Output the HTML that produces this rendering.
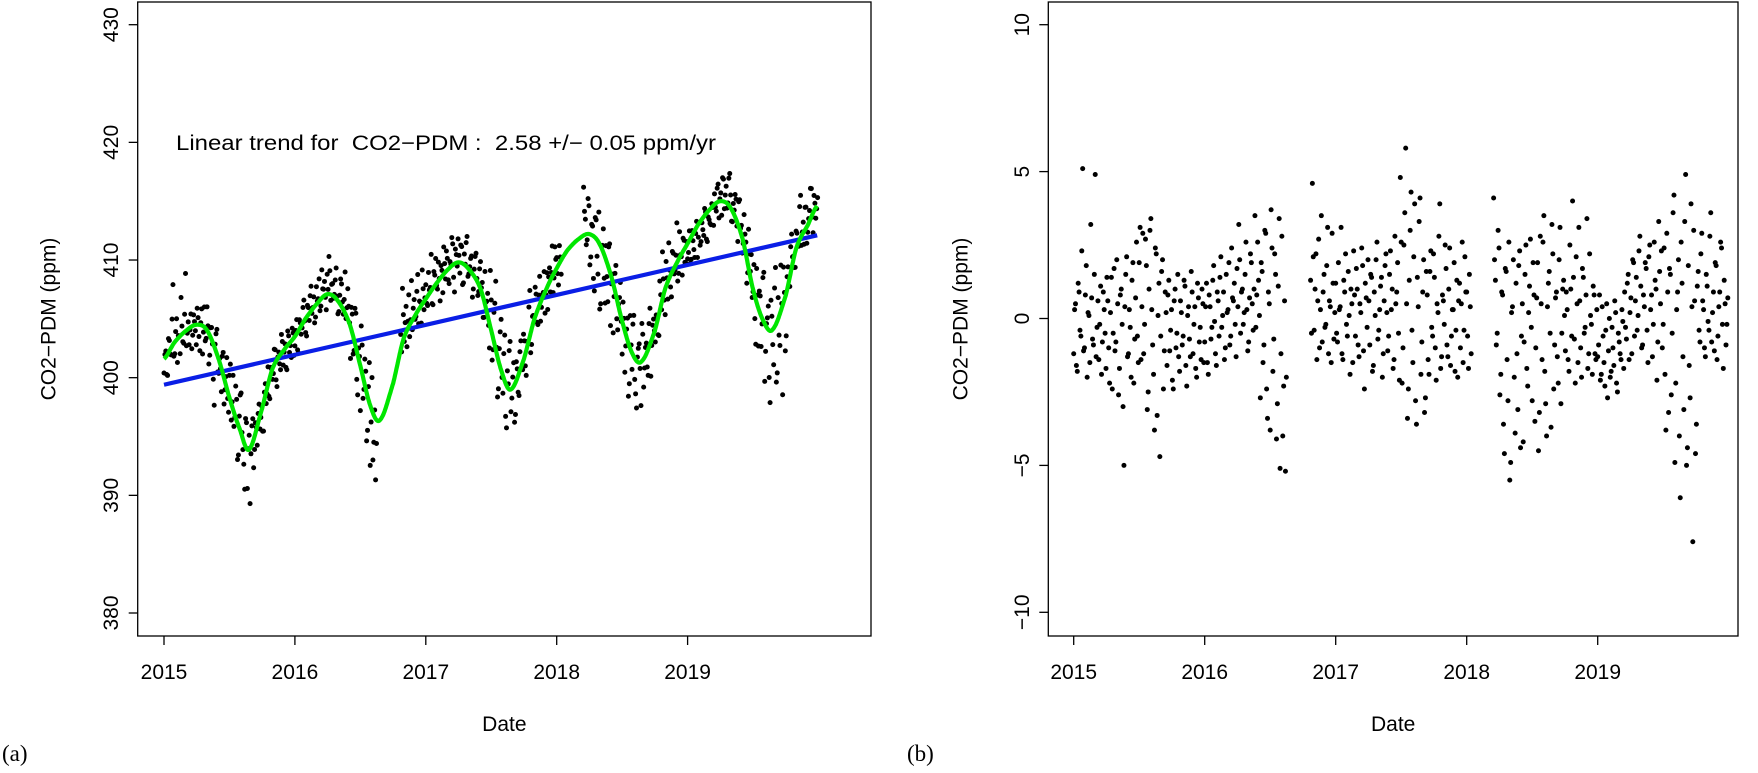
<!DOCTYPE html>
<html><head><meta charset="utf-8"><style>
html,body{margin:0;padding:0;background:#fff;}
svg text{font-family:"Liberation Sans",Arial,sans-serif;fill:#000;}
</style></head><body>
<svg id="fig" width="1758" height="768" viewBox="0 0 1758 768" xmlns="http://www.w3.org/2000/svg">
<g id="pa"></g>
<g id="pb"></g>
<text x="2" y="761" style="font-family:'Liberation Serif',serif;font-size:23px">(a)</text>
<text x="907" y="761" style="font-family:'Liberation Serif',serif;font-size:23px">(b)</text>
</svg>
<script>
// ---- data ----
const yearTicks = [2015, 2016, 2017, 2018, 2019];
const ticksA = [380, 390, 400, 410, 420, 430];
const ticksB = [-10, -5, 0, 5, 10];
const seasonPhase = [0, 0.08, 0.17, 0.25, 0.33, 0.42, 0.5, 0.58, 0.65, 0.75, 0.83, 0.92];
const fit2015 = [401.6,403.0,404.0,404.5,404.0,401.5,398.3,395.6,393.9,397.4,400.8,402.4];
const fit2016 = [403.5,405.0,406.3,407.1,406.5,404.5,401.0,397.5,396.4,399.5,403.3,405.3];
const fit2017 = [406.7,408.0,409.2,409.8,409.2,407.5,404.0,400.5,399.0,401.6,405.0,407.5];
const fit2018 = [409.3,410.8,411.8,412.2,411.3,408.5,404.8,402.0,401.4,404.0,407.6,409.8];
const fit2019 = [411.4,413.0,414.3,415.0,414.4,411.8,407.5,404.8,404.1,407.0,411.0,413.0];
const fitEnd = [2019.99, 414.6];
const trendStart = [2015.0, 399.4];
const trendEnd = [2019.99, 412.1];
const sampleDays = 5;
const res2015 = [-1.2,0.5,-1.8,0.9,-0.6,5.1,-1.0,1.8,0.2,-1.5,0.7,-0.9,4.9,-0.3,-1.4,1.1,-0.8,0.3,-1.7,
0.6,-2.2,1.4,-0.5,-1.1,2.0,-2.6,0.8,-0.2,-5.0,1.5,-1.3,0.3,-2.0,1.9,-0.7,2.6,-1.5,
3.1,0.4,-1.2,2.7,-3.1,1.0,3.4,-0.9,-3.8,2.2,0.1,-4.7,1.6,-2.4,0.9,
-1.6,1.3,-0.4,-2.1,0.6,-1.0,1.5,-1.8,0.2,-0.6,1.1,-2.3,0.4,-1.3,0.9,-0.2,-1.7,1.2,-0.8,-1.4,0.5];
const res2016 = [-0.8,1.2,-1.9,0.4,-0.3,1.8,-1.2,0.9,-0.6,2.1,0.1,-1.4,1.5,0.3,-0.9,2.4,0.6,-0.2,1.7,3.2,-0.5,1.0,0.2,2.6,-1.1,0.7,1.9,-0.4,3.5,0.8,1.3,
-2.7,1.6,-0.9,2.9,-3.4,0.5,3.7,-1.8,2.2,-4.1,1.1,-5.1,2.8,-2.3,-5.2,
null,null,null,null,null,null,null,null,null,null,null,null,null,
1.3,4.6,-0.4,2.2,0.6,-1.0,3.5,0.9,-0.3,1.8,-1.2,0.4,2.9,-0.7];
const res2017 = [1.2,-0.8,0.3,3.1,-1.4,0.9,-0.2,1.6,-1.9,0.5,2.3,-0.6,1.0,-1.3,0.2,1.8,-2.4,0.7,2.0,-0.9,1.4,-1.6,0.1,2.6,-0.4,1.1,-2.0,0.6,2.2,-1.1,1.5,0.3,-1.7,2.8,0.9,-0.5,
4.8,-2.2,2.5,5.8,-3.4,1.3,4.3,-1.5,3.9,-3.6,0.4,4.1,-0.8,2.0,-2.7,
0.8,-1.9,2.3,-0.6,1.4,-2.1,0.2,3.9,-1.3,0.6,2.5,-0.9,1.0,-1.6,0.3,1.9,-0.4,-2.0,1.2,0.5,-1.5,2.1];
const res2018 = [0.9,-1.7,0.4,
null,null,null,null,null,null,null,null,null,null,null,null,
4.1,1.3,-0.5,2.4,-1.9,0.8,-4.6,1.6,-2.8,-5.5,0.2,2.0,-3.9,-1.2,1.8,-4.4,0.5,-0.8,2.5,-2.3,1.1,-0.3,1.9,-3.5,
0.7,-4.5,2.8,-1.4,3.5,-2.9,0.4,1.6,-3.7,2.2,-0.9,0.9,-2.2,3.1,-0.5,1.3,
-1.1,0.3,-1.8,1.0,4.0,-0.7,2.1,-1.5,0.6,-2.0,1.4,-0.3,3.4,-1.2,0.1,-1.9,0.8,-1.4];
const res2019 = [-1.3,0.8,-1.9,-0.6,-2.3,0.5,-1.1,-2.0,-0.3,-1.6,0.2,-2.5,-0.8,-1.4,-0.1,
0.9,-0.7,1.5,0.2,-1.2,1.9,0.6,-0.4,2.3,1.1,-0.9,0.4,1.7,-1.5,2.5,0.8,-0.2,1.3,-2.1,3.3,0.5,-1.0,
2.4,-3.8,0.9,1.7,-2.6,3.6,-4.9,0.3,2.0,-6.1,1.2,-3.1,4.9,-4.4,-1.6,3.9,-7.6,0.6,-3.6,
1.6,-0.8,2.9,0.3,-1.3,1.1,-0.4,3.6,0.2,-1.1,1.8,-0.6,0.9,2.4,-1.7,0.5,-0.2];
// second sample set (offset by half a sampling interval)
const resB2015 = [0.3,-1.6,1.2,-0.4,2.3,-1.1,0.8,-2.0,0.1,3.2,-0.7,1.5,-1.3,0.6,-0.2,-1.9,0.9,-0.5,1.4,
-1.0,0.2,-2.4,1.7,-0.8,0.5,-1.7,1.0,-3.0,0.4,2.1,-1.2,-0.3,1.3,-2.2,0.7,-0.6,1.9,
-1.4,2.9,-0.2,1.8,-2.5,3.0,0.3,-1.9,2.4,-3.3,1.2,-0.6,2.0,-1.1,0.2,
0.8,-1.1,0.3,-2.4,1.0,-0.5,-1.3,0.6,-0.9,1.3,-1.6,0.1,-0.7,1.6,-1.2,0.4,-2.0,0.7,-0.3,1.0,-1.5];
const resB2016 = [0.4,-1.5,0.8,-0.7,1.3,-0.1,-1.6,0.6,1.4,-0.3,0.9,-1.0,0.2,1.9,-0.6,0.7,1.2,-1.3,0.4,2.0,0.9,-0.2,1.5,0.3,-0.8,2.2,0.5,1.0,-0.3,2.6,0.1,
1.9,-1.5,3.0,-2.4,0.9,-3.8,2.4,-0.7,1.5,-2.9,3.4,-1.2,-4.0,0.6,-2.0,
null,null,null,null,null,null,null,null,null,null,null,null,null,
-0.5,2.1,1.0,-1.4,2.7,0.3,-0.8,1.5,-0.2,3.1,0.6,-1.5,1.2,0.2];
const resB2017 = [-0.5,1.9,0.4,-1.2,1.3,2.2,-0.6,0.1,1.0,-1.5,0.8,1.7,-0.9,0.5,2.4,-1.1,1.2,-0.3,0.6,1.5,-1.8,0.9,2.0,-0.7,0.3,1.4,-1.2,1.8,0.2,-0.6,2.3,1.0,-1.4,0.5,1.9,-2.1,
2.6,-1.0,3.6,0.5,-2.4,3.0,-0.4,2.1,-2.8,1.4,3.3,-1.9,0.9,-3.2,1.6,
-1.4,1.6,-0.3,2.2,-1.0,0.5,2.8,-1.7,0.8,-0.2,1.7,-1.3,2.4,-0.6,0.3,-1.8,1.3,0.6,-1.0,2.6,-0.4,0.9];
const resB2018 = [-0.6,1.5,-1.2,
null,null,null,null,null,null,null,null,null,null,null,null,
2.0,-0.9,3.0,-2.6,0.9,-3.6,1.7,-1.4,2.6,-4.9,0.4,-2.0,1.2,-3.1,2.3,-0.6,-4.2,1.5,-1.7,0.2,2.7,-2.8,0.8,-1.0,
1.9,-3.2,0.5,2.6,-1.8,-4.0,1.2,-0.5,3.2,-2.4,0.7,-1.3,2.0,-2.9,1.0,0.1,
0.9,-1.4,2.5,-0.6,1.4,-2.2,0.5,3.1,-1.0,1.7,-0.5,0.8,-1.7,2.2,-0.2,1.1,-1.2,0.3];
const resB2019 = [-0.9,-2.1,0.4,-1.5,-0.4,-2.7,0.0,-1.8,-1.0,0.6,-2.2,-0.5,-1.2,0.3,-1.7,
-0.3,1.2,-1.4,0.7,2.0,-0.6,1.4,0.1,2.8,-1.0,0.8,1.9,-0.4,2.1,0.3,-1.3,2.6,1.0,-0.8,1.6,2.3,-0.2,
-1.9,2.9,-3.2,1.5,-0.5,4.2,-2.2,0.9,-4.0,2.6,-1.3,3.3,-5.0,1.8,-2.7,0.4,3.0,-4.6,1.1,
-0.4,2.2,0.6,-1.0,1.5,-0.1,2.8,-0.8,0.9,1.9,-1.4,0.4,2.6,-0.2,1.3,-0.9,0.7];

// ---- build ----
const NS = "http://www.w3.org/2000/svg";
function mk(parent, tag, attrs, text){
  const e = document.createElementNS(NS, tag);
  for (const k in attrs) e.setAttribute(k, attrs[k]);
  if (text !== undefined) e.textContent = text;
  parent.appendChild(e); return e;
}
const fitYears = [fit2015, fit2016, fit2017, fit2018, fit2019];
const fitT = [], fitV = [];
fitYears.forEach((arr, yi) => arr.forEach((v, j) => { fitT.push(yearTicks[yi] + seasonPhase[j]); fitV.push(v); }));
fitT.push(fitEnd[0]); fitV.push(fitEnd[1]);
function fitAt(t){
  if (t <= fitT[0]) return fitV[0];
  for (let i = 1; i < fitT.length; i++){
    if (t <= fitT[i]){
      const p0 = fitV[Math.max(i-2,0)], p1 = fitV[i-1], p2 = fitV[i], p3 = fitV[Math.min(i+1, fitV.length-1)];
      const u = (t - fitT[i-1]) / (fitT[i] - fitT[i-1]);
      return 0.5*((2*p1) + (-p0+p2)*u + (2*p0-5*p1+4*p2-p3)*u*u + (-p0+3*p1-3*p2+p3)*u*u*u);
    }
  }
  return fitV[fitV.length-1];
}
const pts = [];
function addSet(years, offsetDays){
  years.forEach((arr, yi) => arr.forEach((r, i) => {
    if (r === null) return;
    const t = yearTicks[yi] + (i*sampleDays + offsetDays)/365;
    if (t > 2019.995) return;
    pts.push([t, r]);
  }));
}
addSet([res2015, res2016, res2017, res2018, res2019], 0);
addSet([resB2015, resB2016, resB2017, resB2018, resB2019], 2.5);

function panel(g, o){
  const xS = t => o.x0 + (t - 2015) * o.xStep;
  const yS = v => o.yA + (v - o.vA) * (o.yB - o.yA) / (o.vB - o.vA);
  const box = mk(g, "rect", {x:o.L, y:o.T, width:o.R-o.L, height:o.B-o.T, fill:"none", stroke:"#000", "stroke-width":1.3});
  
  
  o.yTicks.forEach(v => {
    const y = yS(v);
    const tk = mk(g, "line", {x1:o.L-9, x2:o.L, y1:y, y2:y, stroke:"#000", "stroke-width":1.3});
    
    
    const lx = o.L - 25;
    const tx = mk(g, "text", {x:lx, y:y, transform:`rotate(-90 ${lx} ${y})`, "text-anchor":"middle", "dominant-baseline":"middle", "font-size":21}, (v < 0 ? "\u2212" + (-v) : String(v)));
    
    
  });
  yearTicks.forEach(yr => {
    const x = xS(yr);
    const tk = mk(g, "line", {x1:x, x2:x, y1:o.B, y2:o.B+9, stroke:"#000", "stroke-width":1.3});
    
    
    const tx = mk(g, "text", {x:x, y:679, "text-anchor":"middle", "font-size":21}, String(yr));
    
    
  });
  const xt = mk(g, "text", {x:(o.L+o.R)/2, y:731, "text-anchor":"middle", "font-size":21}, "Date");
  
  
  const ty = 319;
  const yt = mk(g, "text", {x:o.titleX, y:ty, transform:`rotate(-90 ${o.titleX} ${ty})`, "text-anchor":"middle", "dominant-baseline":"middle", "font-size":21}, "CO2\u2212PDM (ppm)");
  
  
  return {xS, yS};
}

// Panel A
const ga = document.getElementById("pa");
const A = panel(ga, {pre:'panel-a', L:137.7, R:871, T:2, B:636, x0:164, xStep:130.9, vA:380, yA:613, vB:430, yB:24.7, yTicks:ticksA, titleX:50});
pts.forEach(p => {
  const c = mk(ga, "circle", {cx:A.xS(p[0]), cy:A.yS(fitAt(p[0]) + p[1]), r:2.5, fill:"#000"});
  
  
});
const tl = mk(ga, "line", {x1:A.xS(trendStart[0]), y1:A.yS(trendStart[1]), x2:A.xS(trendEnd[0]), y2:A.yS(trendEnd[1]), stroke:"#0a1ee6", "stroke-width":4.2});


let d = "";
for (let t = 2015; t <= fitEnd[0] + 1e-9; t += 0.005){
  d += (d ? "L" : "M") + A.xS(t).toFixed(1) + "," + A.yS(fitAt(t)).toFixed(1);
}
const fl = mk(ga, "path", {d:d, fill:"none", stroke:"#00e600", "stroke-width":4.2, "stroke-linejoin":"round"});


const ann = mk(ga, "text", {x:176, y:150, "font-size":21, textLength:540, lengthAdjust:"spacingAndGlyphs"}, "Linear trend for\u00a0\u00a0CO2\u2212PDM :\u00a0\u00a02.58 +/\u2212 0.05 ppm/yr");



// Panel B
const gb = document.getElementById("pb");
const B = panel(gb, {pre:'panel-b', L:1048.3, R:1738, T:2, B:636, x0:1073.7, xStep:131, vA:-10, yA:612.3, vB:10, yB:24.7, yTicks:ticksB, titleX:962});
pts.forEach(p => {
  const c = mk(gb, "circle", {cx:B.xS(p[0]), cy:B.yS(p[1]), r:2.5, fill:"#000"});
  
  
});
</script>
</body></html>
